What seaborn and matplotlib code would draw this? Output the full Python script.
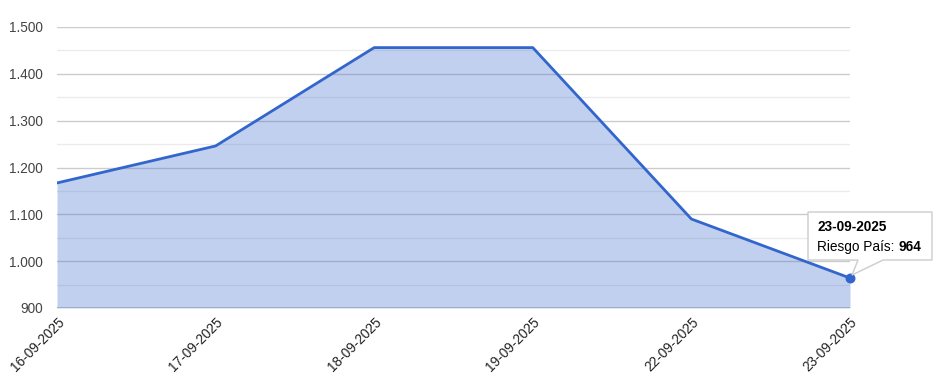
import matplotlib
matplotlib.use("Agg")
import matplotlib.pyplot as plt
import matplotlib.transforms as mtransforms
from matplotlib.patches import Polygon
import numpy as np
import pandas as pd
import seaborn as sns

dates = ["16-09-2025", "17-09-2025", "18-09-2025", "19-09-2025", "22-09-2025", "23-09-2025"]
riesgo = [1167, 1246, 1456, 1456, 1090, 964]
y_ticks = [900, 1000, 1100, 1200, 1300, 1400, 1500]
y_tick_labels = ["900", "1.000", "1.100", "1.200", "1.300", "1.400", "1.500"]
series_name = "Riesgo País"

sns.set_style("white")
plt.rcParams["font.family"] = ["Liberation Sans", "DejaVu Sans"]

df = pd.DataFrame({"pos": np.arange(len(dates)), "fecha": dates, "valor": riesgo})

fig = plt.figure(figsize=(9.39, 3.80), dpi=100)
ax = fig.add_axes([57 / 939, 1 - 308 / 380, (850 - 57) / 939, (308 - 27) / 380])

line_color = "#3366cc"
ax.fill_between(df["pos"], df["valor"], 900, color=line_color, alpha=0.30, linewidth=0, zorder=2)
sns.lineplot(data=df, x="pos", y="valor", ax=ax, color=line_color, linewidth=2, zorder=3)

ax.set_xlim(0, len(dates) - 1)
ax.set_ylim(900, 1500)

# gridlines
for v in y_ticks[1:]:
    ax.axhline(v, color="#cccccc", linewidth=1, zorder=1)
for v in np.arange(950, 1500, 100):
    ax.axhline(v, color="#ebebeb", linewidth=1, zorder=1)
ax.axhline(900, color="#9aa6bf", linewidth=1.2, zorder=4)

ax.set_yticks(y_ticks)
ax.set_yticklabels(y_tick_labels, fontsize=9.8, color="#444444")
ax.set_xticks(df["pos"])
ax.set_xticklabels(dates, fontsize=9.8, color="#222222", rotation=45, ha="right",
                   rotation_mode="anchor", va="top")
ax.tick_params(axis="y", length=0, pad=10)
ax.tick_params(axis="x", length=0, pad=5)
ax.set_xlabel("")
ax.set_ylabel("")
for s in ax.spines.values():
    s.set_visible(False)

# highlighted last point + tooltip
xl, yl = df["pos"].iloc[-1], df["valor"].iloc[-1]
ax.scatter([xl], [yl], s=38, color=line_color, zorder=6, clip_on=False)

trans = mtransforms.Affine2D() + mtransforms.ScaledTranslation(xl, yl, ax.transData)
box = Polygon([(-42, 18), (-42, 66), (82, 66), (82, 18), (33, 18), (2, 3), (8, 18)],
              closed=True, transform=trans, facecolor="white", edgecolor="#cccccc",
              linewidth=1, zorder=7, clip_on=False)
fig.add_artist(box)
fig.text(0, 0, dates[-1], transform=trans + mtransforms.Affine2D().translate(-33, 47),
         fontsize=9.8, fontweight="bold", color="#000000", zorder=8)
t1 = fig.text(0, 0, series_name + ": ", transform=trans + mtransforms.Affine2D().translate(-33, 27),
              fontsize=9.8, color="#000000", zorder=8)
fig.canvas.draw()
w = t1.get_window_extent().width
fig.text(0, 0, f"{yl}", transform=trans + mtransforms.Affine2D().translate(-33 + w, 27),
         fontsize=9.8, fontweight="bold", color="#000000", zorder=8)

fig.savefig("out.png", dpi=100)
